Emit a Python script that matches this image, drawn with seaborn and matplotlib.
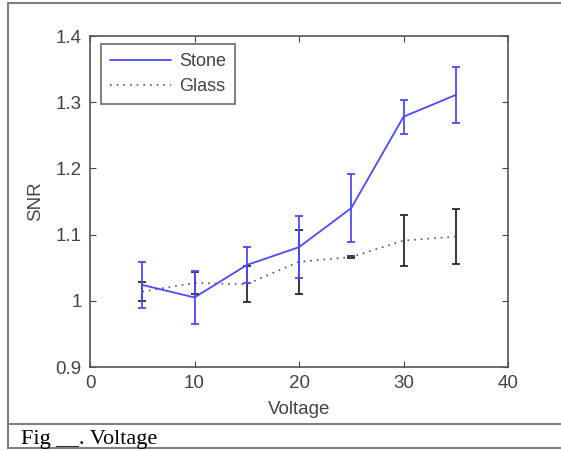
import matplotlib
matplotlib.use("Agg")
import matplotlib.pyplot as plt
import seaborn as sns
import pandas as pd
from matplotlib.lines import Line2D

voltage = [5, 10, 15, 20, 25, 30, 35]
stone_snr = [1.024, 1.005, 1.054, 1.081, 1.140, 1.278, 1.311]
stone_err = [0.035, 0.040, 0.027, 0.047, 0.051, 0.026, 0.042]
glass_snr = [1.014, 1.027, 1.025, 1.059, 1.066, 1.091, 1.097]
glass_err = [0.015, 0.016, 0.027, 0.048, 0.002, 0.039, 0.042]

x_ticks = [0, 10, 20, 30, 40]
y_ticks = [0.9, 1.0, 1.1, 1.2, 1.3, 1.4]
y_labels = ["0.9", "1", "1.1", "1.2", "1.3", "1.4"]

sns.set_theme(style="white")
plt.rcParams['font.family'] = ['Liberation Sans', 'DejaVu Sans']

blue = "#4a4aff"
dark = "#2a2a2a"
fs = 13.5

fig = plt.figure(figsize=(5.61, 4.51), dpi=100)
ax = fig.add_axes([90/561, 1-367/451, (508-90)/561, (367-36)/451])

df_s = pd.DataFrame({"Voltage": voltage, "SNR": stone_snr})
df_g = pd.DataFrame({"Voltage": voltage, "SNR": glass_snr})

ax.errorbar(voltage, glass_snr, yerr=glass_err, fmt="none", ecolor=dark,
            elinewidth=1.3, capsize=3.2, capthick=1.3, zorder=2)
sns.lineplot(data=df_g, x="Voltage", y="SNR", ax=ax, color="#555555",
             linestyle=(0, (1, 3)), linewidth=1.2, label="Glass", zorder=3)
ax.errorbar(voltage, stone_snr, yerr=stone_err, fmt="none", ecolor=blue,
            elinewidth=1.3, capsize=3.2, capthick=1.3, zorder=4)
sns.lineplot(data=df_s, x="Voltage", y="SNR", ax=ax, color=blue,
             linewidth=1.3, label="Stone", zorder=5)

ax.set_xlim(0, 40)
ax.set_ylim(0.9, 1.4)
ax.set_xticks(x_ticks)
ax.set_yticks(y_ticks)
ax.set_yticklabels(y_labels)
ax.tick_params(direction="in", length=4, width=0.8, colors="#444444",
               labelcolor="#444444", labelsize=fs, top=True, right=True,
               left=True, bottom=True, pad=6)
for s in ax.spines.values():
    s.set_color("#555555")
    s.set_linewidth(1.2)
ax.set_xlabel("Voltage", fontsize=fs, color="#444444", labelpad=6)
ax.set_ylabel("SNR", fontsize=fs, color="#444444", labelpad=8)

handles = [Line2D([], [], color=blue, linewidth=1.3),
           Line2D([], [], color="#555555", linestyle=(0, (1, 3)), linewidth=1.2)]
leg = ax.legend(handles, ["Stone", "Glass"], loc="upper left",
                bbox_to_anchor=(0.026, 0.976), fontsize=13, frameon=True,
                fancybox=False, edgecolor="#444444", handlelength=3.4,
                borderpad=0.5, labelspacing=0.45, handletextpad=0.45,
                borderaxespad=0.0)
for t in leg.get_texts():
    t.set_color("#444444")
leg.get_frame().set_linewidth(1.2)

# outer frame and caption
W, H = 561, 451
def fl(x0, y0, x1, y1, lw=1.5):
    fig.add_artist(Line2D([x0/W, x1/W], [1-y0/H, 1-y1/H], color="#808080",
                          linewidth=lw, transform=fig.transFigure))
fl(8, 3, 561, 3)
fl(8, 3, 8, 448)
fl(8, 448, 561, 448)
fl(8, 423.5, 561, 423.5)
fig.text(21/W, 1-444/H, "Fig __. Voltage", family=["Liberation Serif", "DejaVu Serif"],
         fontsize=16, color="black", va="baseline", ha="left")

fig.savefig("out.png", dpi=100)
